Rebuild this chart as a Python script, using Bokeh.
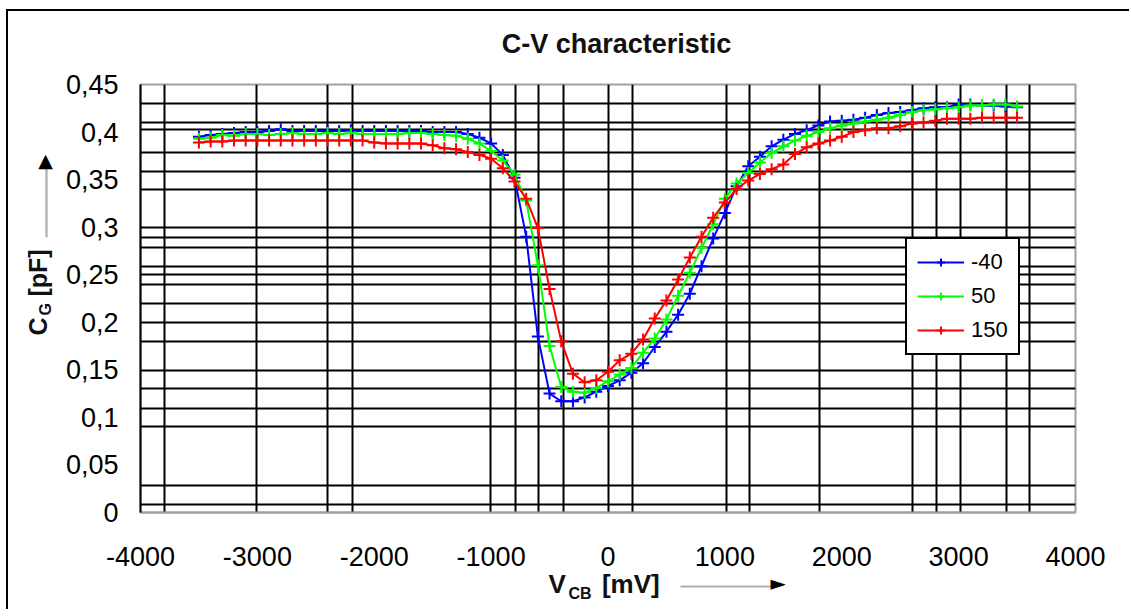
import math
from bokeh.plotting import figure
from bokeh.models import (FixedTicker, Label, Legend, LegendItem, CustomJSTickFormatter)
from bokeh.embed import file_html
from bokeh.resources import INLINE

# ---------------- data ----------------
voltage_mv = list(range(-3500, 3501, 100))

cap_m40 = [0.395, 0.397, 0.398, 0.399, 0.400, 0.400, 0.401, 0.403, 0.401, 0.401,
           0.401, 0.401, 0.401, 0.402, 0.401, 0.401, 0.401, 0.401, 0.401, 0.401,
           0.400, 0.400, 0.400, 0.398, 0.394, 0.388, 0.376, 0.352, 0.290, 0.185,
           0.125, 0.117, 0.117, 0.121, 0.127, 0.133, 0.139, 0.147, 0.157, 0.174,
           0.190, 0.208, 0.230, 0.259, 0.288, 0.315, 0.343, 0.364, 0.374, 0.385,
           0.392, 0.398, 0.402, 0.407, 0.411, 0.412, 0.413, 0.415, 0.418, 0.420,
           0.421, 0.423, 0.425, 0.426, 0.426, 0.429, 0.429, 0.428, 0.428, 0.427,
           0.426]

cap_50 = [0.393, 0.394, 0.397, 0.396, 0.398, 0.398, 0.397, 0.398, 0.399, 0.398,
          0.398, 0.399, 0.398, 0.399, 0.398, 0.398, 0.398, 0.398, 0.399, 0.399,
          0.398, 0.397, 0.396, 0.393, 0.388, 0.380, 0.370, 0.355, 0.328, 0.260,
          0.175, 0.132, 0.127, 0.126, 0.131, 0.138, 0.145, 0.152, 0.168, 0.183,
          0.203, 0.228, 0.252, 0.278, 0.303, 0.330, 0.346, 0.357, 0.368, 0.378,
          0.385, 0.391, 0.396, 0.400, 0.404, 0.407, 0.409, 0.411, 0.413, 0.415,
          0.418, 0.421, 0.423, 0.424, 0.425, 0.426, 0.428, 0.428, 0.429, 0.429,
          0.427]

cap_150 = [0.389, 0.390, 0.390, 0.391, 0.391, 0.391, 0.391, 0.391, 0.391, 0.391,
           0.391, 0.391, 0.391, 0.391, 0.391, 0.389, 0.388, 0.388, 0.388, 0.388,
           0.386, 0.383, 0.382, 0.379, 0.376, 0.372, 0.362, 0.348, 0.330, 0.299,
           0.235, 0.180, 0.146, 0.137, 0.139, 0.148, 0.160, 0.167, 0.182, 0.204,
           0.223, 0.245, 0.268, 0.290, 0.310, 0.326, 0.340, 0.349, 0.356, 0.361,
           0.366, 0.377, 0.384, 0.388, 0.391, 0.395, 0.400, 0.402, 0.404, 0.404,
           0.406, 0.409, 0.410, 0.412, 0.414, 0.414, 0.414, 0.415, 0.415, 0.415,
           0.415]

series_names = ["-40", "50", "150"]
series_colors = ["#0000ff", "#00ff00", "#ff0000"]

x_ticks = [-4000, -3000, -2000, -1000, 0, 1000, 2000, 3000, 4000]
x_tick_labels = ["-4000", "-3000", "-2000", "-1000", "0", "1000", "2000", "3000", "4000"]
y_ticks = [0.0, 0.05, 0.1, 0.15, 0.2, 0.25, 0.3, 0.35, 0.4, 0.45]
y_tick_labels = ["0", "0,05", "0,1", "0,15", "0,2", "0,25", "0,3", "0,35", "0,4", "0,45"]

# irregular grid lines as rendered in the original
grid_x = [-3795, -3008, -2400, -2186, -1005, -791, -595, -381, 4, 210,
          1014, 1210, 1809, 2605, 2810, 3016, 3410, 3606]
grid_y = [0.430, 0.410, 0.4027, 0.3785, 0.3586, 0.3396, 0.2997, 0.2892, 0.2787,
          0.2587, 0.2503, 0.2397, 0.2198, 0.1998, 0.1798, 0.1493, 0.1304, 0.1094,
          0.0904, 0.0284, 0.0084]

FONT = "Liberation Sans"
NB = "\u00a0"
LOOKUP = """
let best = 0;
for (let i = 0; i < tvals.length; i++) {
  if (Math.abs(tvals[i] - tick) < Math.abs(tvals[best] - tick)) best = i;
}
return tlabels[best];
"""

p = figure(width=1123, height=600, x_range=(-4000, 4000), y_range=(0, 0.45),
           output_backend="svg", toolbar_location=None,
           min_border_left=132, min_border_right=56, min_border_top=73, min_border_bottom=99)
p.styles = {"border-left": "2px solid black", "border-top": "2px solid black",
            "margin-left": "6px", "margin-top": "9px"}
p.background_fill_color = "white"
p.border_fill_color = "white"
p.outline_line_color = "#a0a0a0"
p.outline_line_width = 2

# grids
p.xgrid.ticker = FixedTicker(ticks=grid_x)
p.ygrid.ticker = FixedTicker(ticks=grid_y)
for g in (p.xgrid, p.ygrid):
    g.grid_line_color = "black"
    g.grid_line_width = 2
    g.grid_line_alpha = 1.0

# axes
p.xaxis.ticker = FixedTicker(ticks=x_ticks)
p.yaxis.ticker = FixedTicker(ticks=y_ticks)
p.xaxis.formatter = CustomJSTickFormatter(args=dict(tvals=x_ticks, tlabels=x_tick_labels), code=LOOKUP)
p.yaxis.formatter = CustomJSTickFormatter(args=dict(tvals=y_ticks, tlabels=y_tick_labels), code=LOOKUP)
for ax in (p.xaxis, p.yaxis):
    ax.major_label_text_font = FONT
    ax.major_label_text_font_size = "27px"
    ax.major_label_text_color = "black"
    ax.major_tick_out = 0
    ax.major_tick_in = 0
    ax.minor_tick_out = 0
    ax.minor_tick_in = 0
p.xaxis.axis_line_color = "#a0a0a0"
p.xaxis.axis_line_width = 2
p.yaxis.axis_line_color = "black"
p.yaxis.axis_line_width = 2
p.xaxis.major_label_standoff = 34
p.yaxis.major_label_standoff = 22

# series
caps = [cap_m40, cap_50, cap_150]
items = []
for name, col, ys in zip(series_names, series_colors, caps):
    r1 = p.line(voltage_mv, ys, line_color=col, line_width=2)
    r2 = p.scatter(voltage_mv, ys, marker="cross", size=12, line_color=col, line_width=2)
    items.append(LegendItem(label=name, renderers=[r1, r2]))

legend = Legend(items=items, location=(765, 157), orientation="vertical",
                label_text_font=FONT, label_text_font_size="22px", label_text_color="black",
                glyph_width=47, glyph_height=20, label_height=20, label_standoff=7,
                spacing=8, padding=10, margin=0,
                border_line_color="black", border_line_width=2, border_line_alpha=1.0,
                background_fill_color="white", background_fill_alpha=1.0)
p.add_layout(legend, "center")

# texts in canvas coordinates (canvas origin = page (8, 11)); they are put into the
# side panels (where there is spare room) so that they are not clipped to the frame
def lab(side, x, y, text, size, angle=0.0, align="left", font=FONT, color="#111111",
        bold=True, bg=None):
    kw = {}
    if bg is not None:
        kw = dict(background_fill_color=bg, background_fill_alpha=1.0, padding=0)
    p.add_layout(Label(x=x, y=y, x_units="canvas", y_units="canvas", text=text, angle=angle,
                       text_align=align, text_baseline="alphabetic", text_font=font,
                       text_font_size=size, text_font_style="bold" if bold else "normal",
                       text_color=color, **kw), side)

# title
lab("above", 606, 30, "C-V characteristic", "27px", align="center")

# x axis label  V_CB [mV]  with arrow
lab("above", 538, 570, "V" + NB * 5 + "[mV]", "26px")
lab("below", 558, 580, "CB", "16px")
lab("below", 670, 573, NB * 169, "2px", color="#b0b0b0", bg="#b0b0b0", bold=False)
lab("right", 760, 569, "\u25ba", "20px", font="DejaVu Sans", color="black", bold=False)

# y axis label  C_G [pF]  (rotated) with upward arrow
lab("left", 27, 322, "C" + NB * 3 + "[pF]", "25px", math.pi / 2)
lab("left", 35, 302, "G", "16px", math.pi / 2)
lab("left", 36, 224, NB * 126, "2px", math.pi / 2, color="#b0b0b0", bg="#b0b0b0", bold=False)
lab("right", 35, 146, "\u25b2", "19px", align="center", font="DejaVu Sans", color="black", bold=False)

open("out.html", "w").write(file_html(p, INLINE))
